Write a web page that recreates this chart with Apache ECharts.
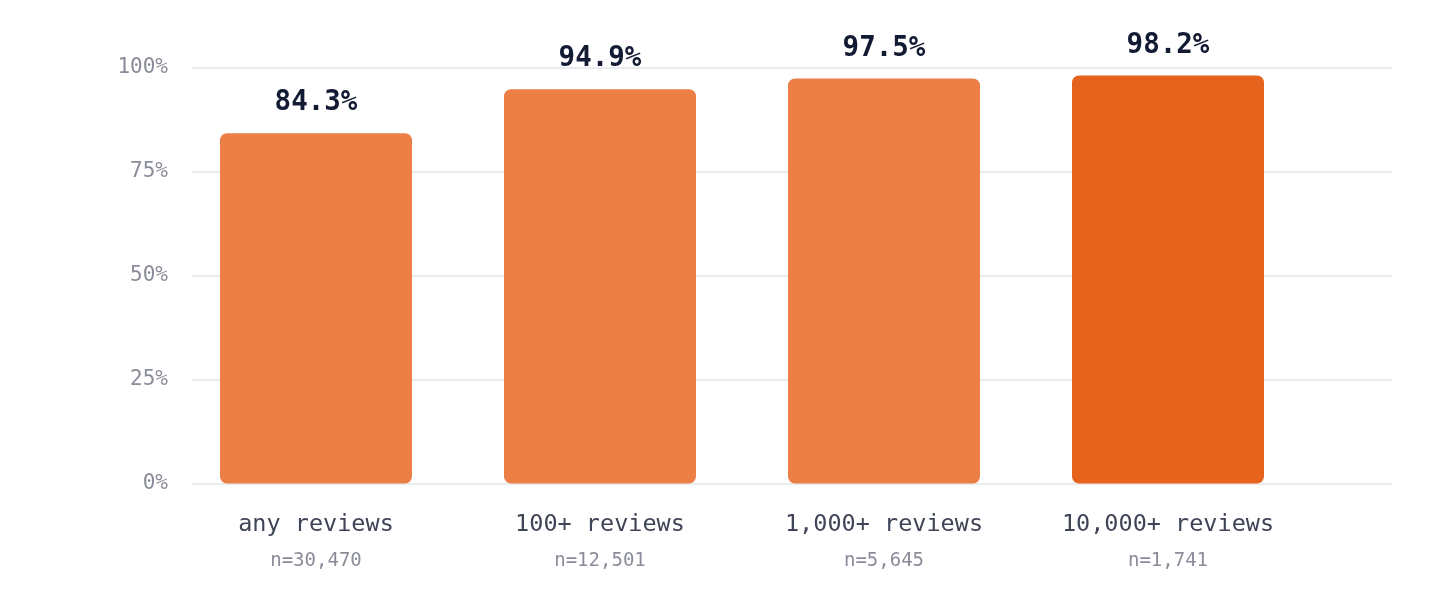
<!DOCTYPE html>
<html><head><meta charset="utf-8">
<script src="https://cdn.jsdelivr.net/npm/echarts@6/dist/echarts.min.js"></script>
<style>html,body{margin:0;padding:0;background:#fff}#c{width:1440px;height:600px}</style>
</head><body><div id="c"></div>
<script>
const categories = ['any reviews', '100+ reviews', '1,000+ reviews', '10,000+ reviews'];
const sampleSizes = ['n=30,470', 'n=12,501', 'n=5,645', 'n=1,741'];
const values = [84.3, 94.9, 97.5, 98.2];
const yTicks = [0, 25, 50, 75, 100];

const FONT = '"DejaVu Sans Mono", monospace';
const chart = echarts.init(document.getElementById('c'));
const barData = values.map((v, i) => ({
  value: v,
  itemStyle: { color: i === values.length - 1 ? '#E6631E' : '#EB7F45' }
}));
chart.setOption({
  animation: false,
  grid: [
    { left: 192, right: 48, top: 68, bottom: 116.5 },
    { left: 174, right: 130, top: 68, bottom: 116.5 }
  ],
  xAxis: [
    { gridIndex: 0, type: 'value', min: 0, max: 1, show: false },
    {
      gridIndex: 1, type: 'category', data: categories,
      axisLine: { show: false }, axisTick: { show: false },
      axisLabel: {
        margin: 23,
        formatter: (v, i) => '{a|' + v + '}\n{b|' + sampleSizes[i] + '}',
        rich: {
          a: { fontFamily: FONT, fontSize: 23.5, color: '#3f4456', lineHeight: 36 },
          b: { fontFamily: FONT, fontSize: 19, color: '#8a8d99', lineHeight: 38 }
        }
      }
    }
  ],
  yAxis: [
    {
      gridIndex: 0, type: 'value', min: yTicks[0], max: yTicks[yTicks.length - 1], interval: 25,
      axisLine: { show: false }, axisTick: { show: false },
      splitLine: { lineStyle: { color: '#E3E4EA', width: 1.5 } },
      axisLabel: { margin: 24, fontFamily: FONT, fontSize: 21, color: '#8a8d99', formatter: v => v + '%' }
    },
    { gridIndex: 1, type: 'value', min: 0, max: 100, show: false }
  ],
  series: [{
    type: 'bar', xAxisIndex: 1, yAxisIndex: 1,
    data: barData, barWidth: 192,
    itemStyle: { borderRadius: 7 },
    label: {
      show: true, position: 'top', distance: 16,
      fontFamily: FONT, fontSize: 27.5, fontWeight: 'bold', color: '#131a33',
      formatter: p => p.value.toFixed(1) + '%'
    }
  }]
});
</script></body></html>
